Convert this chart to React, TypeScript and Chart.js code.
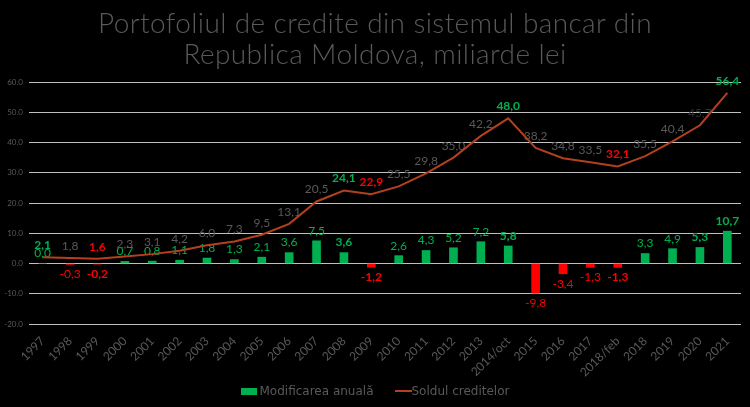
import React, { useEffect, useRef } from 'react';
import { Chart, registerables } from 'chart.js';

Chart.register(...registerables);

const labels = [
  '1997', '1998', '1999', '2000', '2001', '2002', '2003', '2004', '2005', '2006',
  '2007', '2008', '2009', '2010', '2011', '2012', '2013', '2014/oct', '2015', '2016',
  '2017', '2018/feb', '2018', '2019', '2020', '2021',
];

// anual change, miliarde lei
const changes = [
  0.0, -0.3, -0.2, 0.7, 0.8, 1.1, 1.8, 1.3, 2.1, 3.6,
  7.5, 3.6, -1.2, 2.6, 4.3, 5.2, 7.2, 5.8, -9.8, -3.4,
  -1.3, -1.3, 3.3, 4.9, 5.3, 10.7,
];

// total loans balance
const balance = [
  2.1, 1.8, 1.6, 2.3, 3.1, 4.2, 6.0, 7.3, 9.5, 13.1,
  20.5, 24.1, 22.9, 25.5, 29.8, 35.0, 42.2, 48.0, 38.2, 34.8,
  33.5, 32.1, 35.5, 40.4, 45.7, 56.4,
];

// label styles: 'g' bold green, 'r' bold red, 'd' dark, '' normal
const balanceMarks = [
  'g', '', 'r', '', '', '', '', '', '', '',
  '', 'g', 'r', '', '', '', '', 'g', '', '',
  '', 'r', '', '', 'd', 'g',
];
const changeMarks = [
  '', '', 'b', '', '', '', '', '', '', '',
  '', 'b', 'b', '', '', '', '', 'b', '', '',
  '', 'b', '', '', 'b', 'b',
];

const yTicks = [-20, -10, 0, 10, 20, 30, 40, 50, 60];

const GREEN = '#00b050';
const RED = '#ff0000';
const LINE = '#b4401e';
const GREY = '#595959';
const FONT = 'Lato, "DejaVu Sans", sans-serif';

const fmt = (v: number) => v.toFixed(1).replace('.', ',');

const labelPlugin = {
  id: 'valueLabels',
  beforeDatasetsDraw(chart: Chart) {
    const ctx = chart.ctx;
    ctx.save();
    ctx.textAlign = 'center';
    ctx.textBaseline = 'middle';

    const barMeta = chart.getDatasetMeta(0);
    barMeta.data.forEach((el: any, i: number) => {
      const v = changes[i];
      const bold = changeMarks[i] === 'b';
      ctx.font = `${bold ? 'bold ' : ''}12px ${FONT}`;
      ctx.fillStyle = v < 0 ? RED : GREEN;
      const y = v < 0 ? el.y + 10 : el.y - 10;
      ctx.fillText(fmt(v), el.x, y);
    });

    const lineMeta = chart.getDatasetMeta(1);
    lineMeta.data.forEach((el: any, i: number) => {
      const m = balanceMarks[i];
      ctx.font = `${m === 'g' || m === 'r' ? 'bold ' : ''}12px ${FONT}`;
      ctx.fillStyle = m === 'g' ? GREEN : m === 'r' ? RED : m === 'd' ? '#2e2e2e' : GREY;
      ctx.fillText(fmt(balance[i]), el.x, el.y - 12);
    });
    ctx.restore();
  },
};

export default function App() {
  const canvasRef = useRef<HTMLCanvasElement>(null);

  useEffect(() => {
    document.body.style.margin = '0';
    document.body.style.background = '#000';
    if (!canvasRef.current) return;

    const chart = new Chart(canvasRef.current, {
      type: 'bar',
      data: {
        labels,
        datasets: [
          {
            type: 'bar',
            label: 'Modificarea anuală',
            data: changes,
            backgroundColor: changes.map(v => (v < 0 ? RED : GREEN)),
            barThickness: 8,
            order: 2,
          },
          {
            type: 'line',
            label: 'Soldul creditelor',
            data: balance,
            borderColor: LINE,
            borderWidth: 2,
            pointRadius: 0,
            tension: 0,
            fill: false,
            order: 1,
          } as any,
        ],
      },
      options: {
        responsive: false,
        animation: false,
        layout: { padding: { top: 82, right: 9, left: 0, bottom: 0 } },
        plugins: {
          legend: { display: false },
          tooltip: { enabled: false },
        },
        scales: {
          x: {
            offset: true,
            grid: { display: false },
            border: { display: false },
            ticks: {
              color: GREY,
              font: { family: FONT, size: 12 },
              minRotation: 45,
              maxRotation: 45,
              autoSkip: false,
              padding: 2,
            },
            afterFit: (scale: any) => {
              scale.height = 83;
            },
          },
          y: {
            min: -20,
            max: 60,
            afterBuildTicks: (scale: any) => {
              scale.ticks = yTicks.map(v => ({ value: v }));
            },
            afterFit: (scale: any) => {
              scale.width = 29;
            },
            grid: { color: '#bfbfbf', lineWidth: 1, drawTicks: false },
            border: { display: false },
            ticks: {
              color: GREY,
              font: { family: FONT, size: 8 },
              padding: 6,
              callback: (v: number | string) => Number(v).toFixed(1),
            },
          },
        },
      },
      plugins: [labelPlugin],
    });

    return () => chart.destroy();
  }, []);

  return (
    <div style={{ position: 'relative', width: 750, height: 407, background: '#000', fontFamily: FONT }}>
      <div
        style={{
          position: 'absolute',
          top: 7,
          left: 0,
          width: 750,
          textAlign: 'center',
          color: GREY,
          fontSize: 28,
          fontWeight: 300,
          letterSpacing: '0.4px',
          lineHeight: '31px',
        }}
      >
        Portofoliul de credite din sistemul bancar din
        <br />
        Republica Moldova, miliarde lei
      </div>
      <canvas ref={canvasRef} width={750} height={407} style={{ display: 'block' }} />
      <div
        style={{
          position: 'absolute',
          top: 384,
          left: 0,
          width: 750,
          display: 'flex',
          justifyContent: 'center',
          alignItems: 'center',
          color: GREY,
          fontSize: 12,
          fontFamily: '"DejaVu Sans", sans-serif',
        }}
      >
        <span style={{ display: 'inline-block', width: 16, height: 7, background: GREEN, marginRight: 3 }} />
        <span style={{ marginRight: 21 }}>Modificarea anuală</span>
        <span style={{ display: 'inline-block', width: 17, height: 2, background: LINE }} />
        <span>Soldul creditelor</span>
      </div>
    </div>
  );
}
